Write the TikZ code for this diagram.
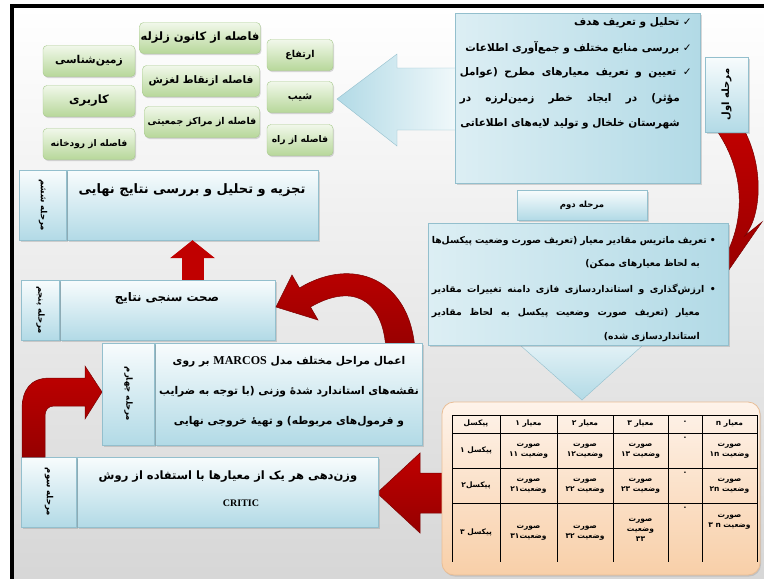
\documentclass[tikz,border=0pt]{standalone}
\usepackage{fontspec}
\usepackage{tikz}
\usetikzlibrary{arrows.meta,positioning,shadows}
\TeXXeTstate=1
\newfontfamily\fa[Script=Arabic]{DejaVu Sans}
\newfontfamily\latinserif{Liberation Serif}
\newcommand{\rtl}[1]{\beginR #1\endR}
\definecolor{greentop}{HTML}{F1F8EA}
\definecolor{greenbot}{HTML}{B7D79A}
\definecolor{greenedge}{HTML}{A6C98A}
\definecolor{bluetop}{HTML}{F8FCFD}
\definecolor{bluebot}{HTML}{B2DAE6}
\definecolor{blueedge}{HTML}{93BFCD}
\definecolor{peachtop}{HTML}{FEF3EA}
\definecolor{peachbot}{HTML}{F8CFA8}
\definecolor{peachedge}{HTML}{E9BE96}
\definecolor{arrowred}{HTML}{C00000}
\definecolor{arrowdark}{HTML}{7A0000}

\begin{document}
\begin{tikzpicture}[
  x=1pt, y=-1pt,
  factor/.style={rounded corners=4pt, top color=greentop, bottom color=greenbot,
    draw=greenedge, minimum height=31pt, inner sep=1pt,
    drop shadow={shadow xshift=1pt, shadow yshift=-1.5pt, opacity=0.3},
    font=\fa\bfseries\fontsize{9.5}{11}\selectfont},
  panel/.style={top color=bluetop, bottom color=bluebot, draw=blueedge, inner sep=0pt,
    drop shadow={shadow xshift=1.5pt, shadow yshift=-2pt, opacity=0.3}},
  phase/.style={font=\fa\bfseries\fontsize{8.5}{9}\selectfont, inner sep=0pt},
  bodytext/.style={font=\fa\bfseries\fontsize{9.3}{10}\selectfont, inner sep=0pt},
  goaltext/.style={font=\fa\bfseries\fontsize{10.5}{11}\selectfont, inner sep=0pt},
  titletext/.style={font=\fa\bfseries\fontsize{10.7}{12}\selectfont, inner sep=0pt},
  cell/.style={font=\fa\bfseries\fontsize{7.5}{10}\selectfont, align=center, inner sep=0pt},
  redblock/.style={top color=arrowred, bottom color=arrowred!78!black, draw=arrowdark, line width=0.5pt},
  blueblock/.style={left color=bluebot, right color=bluetop, draw=blueedge},
  redup/.style={draw=arrowred, line width=22pt, -{Triangle[length=18pt, width=44pt]}}
]
\useasboundingbox (0,0) rectangle (764,579);

% background and frame
\shade[top color=white, bottom color=black!16] (12,6) rectangle (770,585);
\draw[line width=3.5pt] (12,590) -- (12,6) -- (775,6);

% criteria
\node[factor, minimum width=120pt, font=\fa\bfseries\fontsize{11.5}{12}\selectfont] (quake) at (200,38) {\rtl{فاصله از کانون زلزله}};
\node[factor, minimum width=92pt, font=\fa\bfseries\fontsize{10.8}{12}\selectfont] (geo) at (89,61) {\rtl{زمین‌شناسی}};
\node[factor, minimum width=117pt, font=\fa\bfseries\fontsize{10.4}{12}\selectfont] (slide) at (201,81) {\rtl{فاصله ازنقاط لغزش}};
\node[factor, minimum width=92pt, font=\fa\bfseries\fontsize{11.5}{12}\selectfont] (landuse) at (89,101) {\rtl{کاربری}};
\node[factor, minimum width=115pt, font=\fa\bfseries\fontsize{9.4}{10}\selectfont] (pop) at (202,122) {\rtl{فاصله از مراکز جمعیتی}};
\node[factor, minimum width=92pt, font=\fa\bfseries\fontsize{9.1}{10}\selectfont] (river) at (89,144) {\rtl{فاصله از رودخانه}};
\node[factor, minimum width=66pt] (elev) at (300,55) {\rtl{ارتفاع}};
\node[factor, minimum width=66pt, font=\fa\bfseries\fontsize{10}{11}\selectfont] (slope) at (300,97) {\rtl{شیب}};
\node[factor, minimum width=66pt, font=\fa\bfseries\fontsize{9.2}{10}\selectfont] (road) at (300,140) {\rtl{فاصله از راه}};

% stage 1
\path[blueblock] (470,68) -- (397,68) -- (397,54) -- (337,99) -- (397,146) -- (397,130) -- (470,130) -- cycle;
\node[panel, left color=bluebot!45!white, right color=bluebot, minimum width=245pt, minimum height=170pt] (s1) at (577.5,98) {};
\node[goaltext, anchor=east] (s1a) at (692,23) {\beginR ✓ تحلیل و تعریف هدف\endR};
\node[goaltext, anchor=east] (s1b) at (692,48) {\beginR ✓ بررسی منابع مختلف و جمع‌آوری اطلاعات\endR};
\node[goaltext, anchor=east] (s1c) at (692,73) {\makebox[232pt][s]{\beginR ✓ تعیین و تعریف معیارهای مطرح (عوامل\endR}};
\node[goaltext, anchor=east] (s1d) at (680,99) {\makebox[220pt][s]{\beginR مؤثر) در ایجاد خطر زمین‌لرزه در\endR}};
\node[goaltext, anchor=east] (s1e) at (680,124) {\beginR شهرستان خلخال و تولید لایه‌های اطلاعاتی\endR};

\path[redblock] (743,128) .. controls (764,165) and (762,215) .. (744.8,235.8) -- (762,222) -- (717,287)
  -- (712,262) -- (729.2,248.2) .. controls (744,215) and (745,170) .. (715,128) -- cycle;
\node[panel, minimum width=43pt, minimum height=75pt] (s1tag) at (726.5,94.5) {};
\node[phase, rotate=90, font=\fa\bfseries\fontsize{10}{11}\selectfont] (s1lab) at (s1tag) {\beginR مرحله اول\endR};

% stage 2
\node[panel, minimum width=130pt, minimum height=30pt] (s2tag) at (582,205) {};
\node[phase] (s2lab) at (s2tag) {\beginR مرحله دوم\endR};
\path[blueblock, top color=bluetop, bottom color=bluebot] (555,320) -- (609,320) -- (609,345) -- (643,345) -- (582,400) -- (520,345) -- (555,345) -- cycle;
\node[panel, left color=bluebot!45!white, right color=bluebot, minimum width=300pt, minimum height=122pt] (s2) at (578,284) {};
\node[bodytext, anchor=east] (s2a) at (716,241) {\makebox[284pt][s]{\beginR • تعریف ماتریس مقادیر معیار (تعریف صورت وضعیت پیکسل‌ها\endR}};
\node[bodytext, anchor=east] (s2b) at (700,264) {\beginR به لحاظ معیارهای ممکن)\endR};
\node[bodytext, anchor=east] (s2c) at (716,289) {\makebox[284pt][s]{\beginR • ارزش‌گذاری و استانداردسازی فازی دامنه تغییرات مقادیر\endR}};
\node[bodytext, anchor=east] (s2d) at (700,313) {\makebox[268pt][s]{\beginR معیار (تعریف صورت وضعیت پیکسل به لحاظ مقادیر\endR}};
\node[bodytext, anchor=east] (s2e) at (700,337) {\beginR استانداردسازی شده)\endR};

% decision matrix
\path[redblock] (450,473) -- (420,473) -- (420,453) -- (377,493) -- (420,533) -- (420,513) -- (450,513) -- cycle;
\node[rounded corners=12pt, top color=peachtop, bottom color=peachbot, draw=peachedge, line width=0.8pt,
  minimum width=318pt, minimum height=173pt,
  drop shadow={shadow xshift=1pt, shadow yshift=-1.5pt, opacity=0.25}] (matrix) at (601,488.5) {};
\foreach \x in {452,500,557,613,668,702,757}
  \draw[line width=0.6pt] (\x,415) -- (\x,562);
\foreach \y in {415,433,468,503}
  \draw[line width=0.6pt] (452,\y) -- (757,\y);
\node[cell] (h1) at (476,424) {\rtl{پیکسل}};
\node[cell] (h2) at (528.5,424) {\beginR معیار ۱\endR};
\node[cell] (h3) at (585,424) {\beginR معیار ۲\endR};
\node[cell] (h4) at (640.5,424) {\beginR معیار ۳\endR};
\node[cell] (h5) at (685,422) {.};
\node[cell] (h6) at (729.5,424) {\beginR معیار n\endR};
\node[cell] (c11) at (476,450.5) {\beginR پیکسل ۱\endR};
\node[cell] (c12) at (528.5,450.5) {\rtl{صورت}\\\beginR وضعیت ۱۱\endR};
\node[cell] (c13) at (585,450.5) {\rtl{صورت}\\\rtl{وضعیت۱۲}};
\node[cell] (c14) at (640.5,450.5) {\rtl{صورت}\\\beginR وضعیت ۱۳\endR};
\node[cell] (c15) at (685,438) {.};
\node[cell] (c16) at (729.5,450.5) {\rtl{صورت}\\\beginR وضعیت ۱n\endR};
\node[cell] (c21) at (476,485.5) {\rtl{پیکسل۲}};
\node[cell] (c22) at (528.5,485.5) {\rtl{صورت}\\\rtl{وضعیت۲۱}};
\node[cell] (c23) at (585,485.5) {\rtl{صورت}\\\beginR وضعیت ۲۲\endR};
\node[cell] (c24) at (640.5,485.5) {\rtl{صورت}\\\beginR وضعیت ۲۳\endR};
\node[cell] (c25) at (685,473) {.};
\node[cell] (c26) at (729.5,485.5) {\rtl{صورت}\\\beginR وضعیت ۲n\endR};
\node[cell] (c31) at (476,532.5) {\beginR پیکسل ۳\endR};
\node[cell] (c32) at (528.5,532.5) {\rtl{صورت}\\\rtl{وضعیت۳۱}};
\node[cell] (c33) at (585,532.5) {\rtl{صورت}\\\beginR وضعیت ۳۲\endR};
\node[cell] (c34) at (640.5,530) {\rtl{صورت}\\\rtl{وضعیت}\\\rtl{۳۳}};
\node[cell] (c35) at (685,508) {.};
\node[cell] (c36) at (729.5,522) {\rtl{صورت}\\\beginR وضعیت n ۳\endR};

% stage 3
\node[panel, minimum width=301pt, minimum height=70pt] (s3) at (227.5,492) {};
\node[panel, minimum width=55pt, minimum height=70pt, left=0pt of s3] (s3tag) {};
\node[phase, rotate=-90] (s3lab) at (s3tag) {\beginR مرحله سوم\endR};
\node[titletext, font=\fa\bfseries\fontsize{11.5}{12}\selectfont] (s3a) at (228,477) {\beginR وزن‌دهی هر یک از معیارها با استفاده از روش\endR};
\node[titletext, font=\latinserif\bfseries\fontsize{10}{12}\selectfont] (s3b) at (241,503) {CRITIC};

% stage 3 -> stage 4
\path[redblock] (22,457) -- (22,410) .. controls (22,390) and (30,378) .. (50,378) -- (85,378) -- (85,366)
  -- (102,392) -- (85,419) -- (85,406) -- (54,406) .. controls (48,406) and (45,410) .. (45,416) -- (45,457) -- cycle;

% stage 5
\node[panel, minimum width=215pt, minimum height=60pt] (s5) at (167.5,310) {};
\node[panel, minimum width=38pt, minimum height=60pt, left=0pt of s5] (s5tag) {};
\node[phase, rotate=-90] (s5lab) at (s5tag) {\beginR مرحله پنجم\endR};
\node[titletext, font=\fa\bfseries\fontsize{11.8}{12}\selectfont] (s5txt) at (167,298) {\beginR صحت سنجی نتایج\endR};

% stage 4 -> stage 5
\path[redblock] (415,350) .. controls (410,278) and (352,256) .. (299.5,288) -- (292,275) -- (276,307)
  -- (318,320) -- (310.5,307) .. controls (350,284) and (383,296) .. (386,350) -- cycle;

% stage 4
\node[panel, minimum width=267pt, minimum height=102pt] (s4) at (288.5,394) {};
\node[panel, minimum width=52pt, minimum height=102pt, left=0pt of s4] (s4tag) {};
\node[phase, rotate=-90] (s4lab) at (s4tag) {\beginR مرحله چهارم\endR};
\node[titletext] (s4a) at (289,362) {\beginR اعمال مراحل مختلف مدل \beginL{\latinserif\bfseries\fontsize{12}{12}\selectfont MARCOS}\endL{} بر روی\endR};
\node[titletext] (s4b) at (289,392) {\beginR نقشه‌های استاندارد شدهٔ وزنی (با توجه به ضرایب\endR};
\node[titletext] (s4c) at (289,422) {\beginR و فرمول‌های مربوطه) و تهیهٔ خروجی نهایی\endR};

% stage 6
\node[panel, minimum width=251pt, minimum height=70pt] (s6) at (192.5,205) {};
\node[panel, minimum width=47pt, minimum height=70pt, left=0pt of s6] (s6tag) {};
\node[phase, rotate=-90] (s6lab) at (s6tag) {\beginR مرحله ششم\endR};
\node[titletext, font=\fa\bfseries\fontsize{13}{14}\selectfont] (s6txt) at (192,190) {\beginR تجزیه و تحلیل و بررسی نتایج نهایی\endR};

% stage 5 -> stage 6
\draw[redup] (s6.south |- s5.north) -- (s6.south);
\end{tikzpicture}
\end{document}
